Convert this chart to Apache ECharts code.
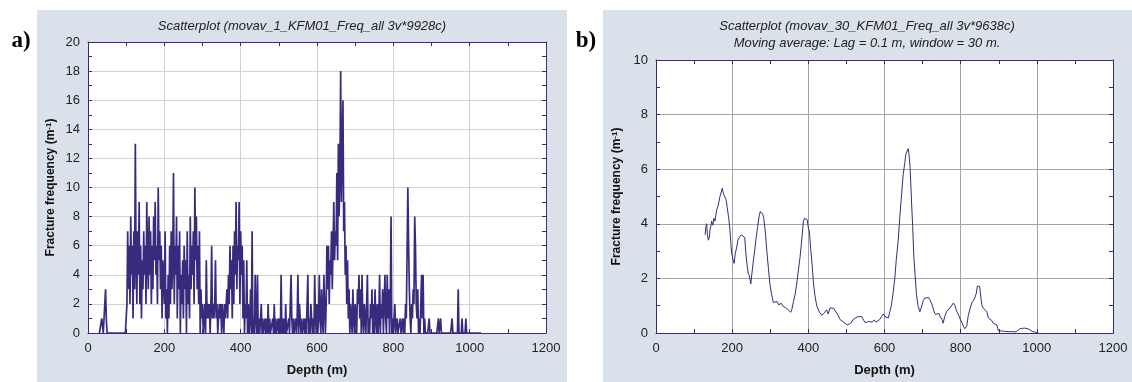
<!DOCTYPE html>
<html>
<head>
<meta charset="utf-8">
<script src="https://cdn.jsdelivr.net/npm/echarts@6/dist/echarts.min.js"></script>
<style>
html,body{margin:0;padding:0;background:#fff;}
#c{width:1132px;height:382px;}
</style>
</head>
<body>
<div id="c"></div>
<script>
// ---- Panel a) fracture frequency, sampled every 2 m starting at 30 m ----
const freqStartDepth = 30;
const freqStepDepth = 2;
const freqValues = [
  0,0,0,1,1,0,1,1,3,1,        // 30-48
  0,0,0,0,0,0,0,0,0,0,        // 50-68
  0,0,0,0,0,0,0,0,0,0,        // 70-88
  0,0,0,0,0,0,2,7,3,6,        // 90-108
  2,8,4,6,1,7,3,13,5,2,       // 110-128
  7,4,9,2,6,1,5,3,7,4,        // 130-148
  6,2,9,5,3,8,4,7,2,6,        // 150-168
  3,8,5,9,4,6,2,10,5,7,       // 170-188
  3,6,1,5,4,2,7,1,3,0,        // 190-208
  4,1,6,2,7,3,5,11,2,6,       // 210-228
  4,8,1,6,3,7,0,4,2,5,        // 230-248
  1,6,3,5,0,7,2,4,1,8,        // 250-268
  3,6,4,7,2,10,5,8,3,6,       // 270-288
  2,7,0,3,1,2,0,1,2,0,        // 290-308
  5,1,2,1,2,0,2,6,1,2,        // 310-328
  1,2,5,1,2,0,1,2,1,2,        // 330-348
  0,2,1,0,2,1,2,3,1,4,        // 350-368
  2,6,3,5,1,6,2,7,4,9,        // 370-388
  3,6,5,9,2,7,4,6,1,5,        // 390-408
  0,2,1,5,0,2,0,1,3,0,        // 410-428
  7,0,1,0,4,1,0,4,0,1,        // 430-448
  0,0,2,0,1,0,0,1,0,1,        // 450-468
  0,2,0,1,0,0,0,1,0,2,        // 470-488
  0,1,0,0,1,0,1,0,4,0,        // 490-508
  1,0,1,0,2,0,0,0,1,0,        // 510-528
  0,4,1,0,1,0,0,1,0,1,        // 530-548
  4,0,2,1,0,1,0,0,1,0,        // 550-568
  1,0,2,4,0,1,0,2,1,0,        // 570-588
  1,0,4,1,0,2,0,1,4,1,        // 590-608
  0,3,1,0,4,2,0,2,6,3,        // 610-628
  6,2,5,4,7,3,6,9,5,7,        // 630-648
  6,11,5,13,8,11,18,9,13,16,  // 650-668
  7,9,4,6,2,5,1,3,0,2,        // 670-688
  1,0,3,1,0,2,1,0,3,2,        // 690-708
  4,1,3,0,4,1,0,2,1,0,        // 710-728
  2,4,0,1,0,2,1,3,0,2,        // 730-748
  0,3,1,0,2,0,1,4,0,2,        // 750-768
  1,3,0,2,4,1,0,4,1,3,        // 770-788
  0,2,8,0,1,0,0,2,0,0,        // 790-808
  1,0,0,0,1,0,0,1,0,1,        // 810-828
  0,2,1,1,10,6,3,1,0,2,       // 830-848
  1,3,2,8,6,2,1,3,0,1,        // 850-868
  0,2,4,1,4,0,1,0,0,0,        // 870-888
  0,0,1,0,0,0,0,0,0,0,        // 890-908
  0,0,0,0,1,0,0,1,0,0,        // 910-928
  0,0,0,0,0,0,0,0,0,0,        // 930-948
  0,0,1,0,0,0,0,0,0,0,        // 950-968
  3,0,0,0,0,1,0,0,0,0,        // 970-988
  1,0,0,0,0,0,0,0,0,0,        // 990-1008
  0,0,0,0,0,0,0,0,0,0,0       // 1010-1030
];

// ---- Panel b) 30 m moving average ----
const movavDepth = [
  129,131,133,135,137.5,140,142,144,146,149,
  152,155,159,163,168,171,174,177,181,184,
  187,191,194,197,199,202,205,208,212,215,
  219,224,229,233,236,239,242,245,249,252,
  256,259,263,267,271,274,277,280,283,287,
  291,295,299,303,308,313,318,323,328,333,
  338,343,348,354,357,361,365,369,374,378,
  382,387,390,394,397,400,403,406,410,413,
  417,422,428,435,441,448,452,457,462,467,
  472,478,483,488,492,497,502,506,511,518,
  524,530,535,540,544,549,553,558,563,568,
  573,578,583,588,592,597,601,605,610,614,
  618,622,627,631,636,640,645,649,653,656,
  659,662,664,667,669,671,674,677,680,684,
  688,693,697,702,706,711,716,720,724,727,
  730,734,739,743,747,751,754,758,763,767,
  772,776,781,785,790,795,799,803,807,811,
  816,820,825,829,834,838,841,844,847,850,
  853,856,860,864,868,873,878,882,886,890,
  895,899,905,915,925,935,945,950,956,962,
  968,973,978,983,988,994,999,1004
];
const movavValue = [
  3.6,3.9,4.0,3.6,3.4,3.5,3.8,3.9,4.1,3.95,
  4.2,4.1,4.5,4.65,5.0,5.05,5.3,5.1,5.05,4.9,
  4.6,4.2,3.8,3.2,2.9,2.7,2.55,2.9,3.15,3.4,
  3.5,3.6,3.55,3.5,2.9,2.5,2.2,2.1,1.8,2.2,
  2.7,3.0,3.5,3.9,4.3,4.45,4.5,4.35,4.2,3.7,
  3.0,2.4,1.8,1.45,1.12,1.05,1.15,1.02,1.1,0.98,
  1.02,0.9,0.95,0.76,0.88,1.15,1.4,1.75,2.3,2.75,
  3.3,4.1,4.2,4.25,4.15,3.85,3.7,3.1,2.5,1.9,
  1.4,1.0,0.8,0.65,0.72,0.85,0.7,0.92,0.86,0.9,
  0.85,0.65,0.5,0.45,0.4,0.35,0.3,0.28,0.35,0.5,
  0.55,0.6,0.62,0.6,0.55,0.38,0.45,0.42,0.45,0.4,
  0.48,0.4,0.45,0.5,0.6,0.7,0.6,0.62,0.55,0.78,
  1.0,1.4,2.0,2.7,3.4,4.2,5.1,5.8,6.2,6.55,
  6.5,6.75,6.6,6.1,5.5,4.8,3.9,2.8,2.2,1.4,
  1.0,0.78,0.95,1.2,1.28,1.22,1.3,1.2,1.18,0.95,
  0.78,0.68,0.65,0.72,0.58,0.5,0.36,0.6,0.78,0.8,
  0.92,0.9,1.1,1.0,0.78,0.65,0.5,0.4,0.25,0.16,
  0.25,0.65,0.9,1.1,1.2,1.32,1.45,1.72,1.75,1.7,
  1.3,1.0,0.9,0.95,0.8,0.55,0.5,0.45,0.35,0.32,
  0.3,0.08,0.08,0.06,0.05,0.05,0.04,0.05,0.16,0.17,
  0.18,0.19,0.15,0.12,0.06,0.04,0.02,0
];

const titleA = 'Scatterplot (movav_1_KFM01_Freq_all 3v*9928c)';
const titleB1 = 'Scatterplot (movav_30_KFM01_Freq_all 3v*9638c)';
const titleB2 = 'Moving average: Lag = 0.1 m, window = 30 m.';
const xName = 'Depth (m)';
const yName = 'Fracture frequency (m{sup|-1})';

const freqData = freqValues.map((v, i) => [freqStartDepth + i * freqStepDepth, v]);
const movavData = movavDepth.map((d, i) => [d, movavValue[i]]);

const FONT = '"Liberation Sans", Arial, sans-serif';
const INK = '#3a2a7e';
const PANEL = '#dae1ea';
const plain = v => String(v);

function xAxes(gi, gridColor) {
  return [{
    gridIndex: gi, type: 'value', min: 0, max: 1200, interval: 200, position: 'bottom',
    axisLine: { show: true, onZero: false, lineStyle: { color: INK, width: 1 } },
    axisTick: { show: true, inside: true, length: 4, lineStyle: { color: INK } },
    minorTick: { show: true, splitNumber: 2, length: 4, lineStyle: { color: INK } },
    splitLine: { show: true, lineStyle: { color: gridColor, width: 1 } },
    axisLabel: { fontSize: 13, color: '#222', margin: 9, fontFamily: FONT, formatter: plain },
    name: xName, nameLocation: 'middle', nameGap: 31,
    nameTextStyle: { fontSize: 13, fontWeight: 'bold', color: '#111', fontFamily: FONT }
  }, {
    gridIndex: gi, type: 'value', min: 0, max: 1200, interval: 200, position: 'top',
    axisLine: { show: true, onZero: false, lineStyle: { color: INK, width: 1 } },
    axisTick: { show: true, inside: true, length: 4, lineStyle: { color: INK } },
    minorTick: { show: true, splitNumber: 2, length: 4, lineStyle: { color: INK } },
    splitLine: { show: false }, axisLabel: { show: false }
  }];
}
function yAxes(gi, max, gridColor, nameGap) {
  return [{
    gridIndex: gi, type: 'value', min: 0, max: max, interval: 2, position: 'left',
    axisLine: { show: true, onZero: false, lineStyle: { color: INK, width: 1 } },
    axisTick: { show: true, inside: true, length: 4, lineStyle: { color: INK } },
    minorTick: { show: true, splitNumber: 2, length: 4, lineStyle: { color: INK } },
    splitLine: { show: true, lineStyle: { color: gridColor, width: 1 } },
    axisLabel: { fontSize: 13, color: '#222', margin: 8, fontFamily: FONT, formatter: plain },
    name: yName, nameLocation: 'middle', nameGap: nameGap, nameRotate: 90,
    nameTextStyle: { fontSize: 12, fontWeight: 'bold', color: '#111', fontFamily: FONT,
      rich: { sup: { fontSize: 8, fontWeight: 'bold', verticalAlign: 'top', color: '#111', fontFamily: FONT } } }
  }, {
    gridIndex: gi, type: 'value', min: 0, max: max, interval: 2, position: 'right',
    axisLine: { show: true, onZero: false, lineStyle: { color: INK, width: 1 } },
    axisTick: { show: true, inside: true, length: 4, lineStyle: { color: INK } },
    minorTick: { show: true, splitNumber: 2, length: 4, lineStyle: { color: INK } },
    splitLine: { show: false }, axisLabel: { show: false }
  }];
}

const chart = echarts.init(document.getElementById('c'), null, { renderer: 'canvas' });
const txt = (x, y, text, extra) => ({
  type: 'text', x: x, y: y, z: 10,
  style: Object.assign({ text: text, fontFamily: FONT, fontSize: 13, fontStyle: 'italic', fill: '#222',
    textAlign: 'center', textVerticalAlign: 'middle' }, extra || {})
});
chart.setOption({
  animation: false,
  backgroundColor: '#ffffff',
  graphic: [
    { type: 'rect', z: -10, shape: { x: 37, y: 10, width: 530, height: 372 }, style: { fill: PANEL } },
    { type: 'rect', z: -10, shape: { x: 603, y: 10, width: 529, height: 372 }, style: { fill: PANEL } },
    txt(302, 26, titleA),
    txt(867, 26, titleB1),
    txt(867, 43, titleB2),
    txt(21, 41, 'a)', { fontFamily: '"Liberation Serif", "Times New Roman", serif', fontSize: 23, fontStyle: 'normal', fontWeight: 'bold', fill: '#000' }),
    txt(586, 41, 'b)', { fontFamily: '"Liberation Serif", "Times New Roman", serif', fontSize: 23, fontStyle: 'normal', fontWeight: 'bold', fill: '#000' })
  ],
  grid: [
    { left: 88, top: 42, width: 458, height: 296, show: true, backgroundColor: '#fff', borderWidth: 0 },
    { left: 656, top: 60, width: 457, height: 278, show: true, backgroundColor: '#fff', borderWidth: 0 }
  ],
  xAxis: xAxes(0, '#d2d2d2').concat(xAxes(1, '#a4a4a4')),
  yAxis: yAxes(0, 20, '#d2d2d2', 31).concat(yAxes(1, 10, '#a4a4a4', 33)),
  series: [
    { type: 'line', xAxisIndex: 0, yAxisIndex: 0, data: freqData, symbol: 'none', silent: true,
      sampling: null, lineStyle: { color: INK, width: 1.7 }, z: 3 },
    { type: 'line', xAxisIndex: 2, yAxisIndex: 2, data: movavData, symbol: 'none', silent: true,
      lineStyle: { color: INK, width: 1 }, z: 3 }
  ]
});
</script>
</body>
</html>
